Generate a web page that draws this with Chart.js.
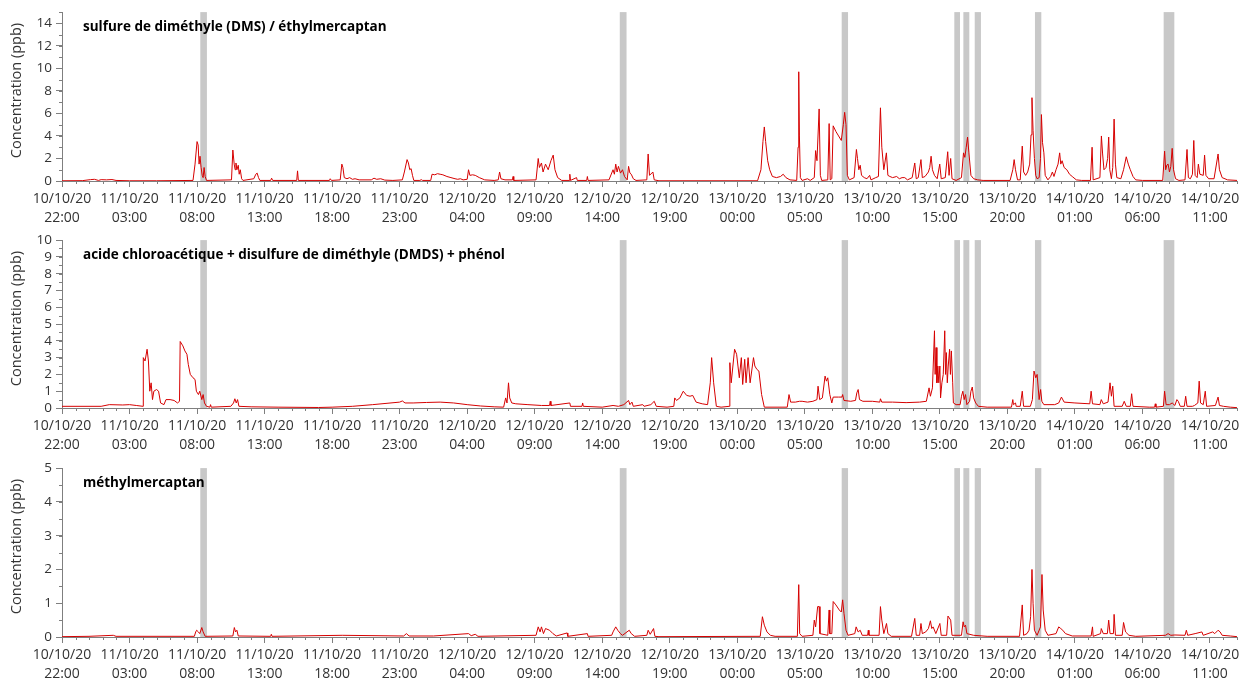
<!DOCTYPE html>
<html>
<head>
<meta charset="utf-8">
<script src="https://cdn.jsdelivr.net/npm/chart.js@4.4.1/dist/chart.umd.min.js"></script>
<style>
  html, body { margin: 0; padding: 0; background: #ffffff; }
  #wrap { position: relative; width: 1239px; height: 679px; overflow: hidden; }
  .panel { position: absolute; left: 0; width: 1239px; }
  canvas { display: block; }
</style>
</head>
<body>
<div id="wrap">
  <div class="panel" style="top:0px"><canvas id="c1" width="1239" height="227"></canvas></div>
  <div class="panel" style="top:228px"><canvas id="c2" width="1239" height="227"></canvas></div>
  <div class="panel" style="top:456px"><canvas id="c3" width="1239" height="223"></canvas></div>
</div>
<script>
// Time is expressed in hours elapsed since 10/10/20 22:00.
const START = { day: 10, month: 10, year: '20', hour: 22 };
const X_MAX = 87;
const xTickHours = [0, 5, 10, 15, 20, 25, 30, 35, 40, 45, 50, 55, 60, 65, 70, 75, 80, 85];

// Shaded periods [start, end] in hours
const shadedPeriods = [
  [10.24, 10.73], [41.30, 41.80], [57.73, 58.20], [66.07, 66.49],
  [66.74, 67.18], [67.58, 68.04], [72.04, 72.51], [81.57, 82.36]
];

const titles = [
  'sulfure de diméthyle (DMS) / éthylmercaptan',
  'acide chloroacétique + disulfure de diméthyle (DMDS) + phénol',
  'méthylmercaptan'
];
const yAxisTitle = 'Concentration (ppb)';

const yTicksDms = [0, 2, 4, 6, 8, 10, 12, 14];
const yTicksDmds = [0, 1, 2, 3, 4, 5, 6, 7, 8, 9, 10];
const yTicksMeth = [0, 1, 2, 3, 4, 5];

// [hour, ppb]
const dms = [
  [0,0.02],[1.5,0.03],[2.1,0.12],[2.4,0.15],[2.7,0.05],[2.9,0.12],[3.3,0.1],[3.7,0.13],[4.0,0.05],[5,0.02],[7,0.02],
  [9.7,0.05],[9.85,1.5],[10.0,3.5],[10.08,3.2],[10.15,1.5],[10.22,2.2],[10.3,1.2],[10.38,0.5],[10.45,0.3],[10.52,1.2],[10.6,0.4],[10.7,0.05],
  [12.55,0.1],[12.65,2.75],[12.75,1.5],[12.82,1.0],[12.88,1.6],[12.95,1.0],[13.05,1.4],[13.12,0.6],[13.2,1.0],[13.3,0.2],[13.4,0.05],
  [14.2,0.2],[14.35,0.6],[14.45,0.7],[14.55,0.3],[14.65,0.05],[15.45,0.05],[15.52,0.25],[15.6,0.05],
  [17.38,0.05],[17.44,0.9],[17.5,0.05],[19.8,0.05],[19.86,0.2],[19.95,0.05],
  [20.6,0.1],[20.72,1.5],[20.8,1.2],[20.9,0.3],[21.1,0.2],[21.3,0.3],[21.5,0.15],[21.7,0.2],[22.0,0.1],
  [22.9,0.1],[23.1,0.25],[23.3,0.15],[23.6,0.2],[23.9,0.08],[24.5,0.05],
  [25.2,0.1],[25.35,0.8],[25.55,1.9],[25.65,1.6],[25.75,1.0],[25.85,1.1],[25.95,0.5],[26.05,0.05],
  [26.5,0.05],[26.6,0.12],[26.7,0.05],[27.3,0.05],[27.4,0.6],[27.6,0.55],[27.8,0.65],[28.0,0.6],[28.2,0.55],[28.5,0.4],[28.8,0.3],
  [29.1,0.2],[29.3,0.15],[29.5,0.2],[29.7,0.1],[30.0,0.15],[30.1,1.0],[30.2,0.5],[30.4,0.55],[30.6,0.5],[30.9,0.3],[31.3,0.1],
  [32.0,0.05],[32.3,0.1],[32.4,0.8],[32.5,0.2],[32.8,0.1],[33.35,0.1],[33.4,0.4],[33.45,0.05],
  [35.1,0.1],[35.26,2.0],[35.35,1.2],[35.5,1.6],[35.62,0.8],[35.8,1.5],[36.0,1.0],[36.2,1.8],[36.37,2.3],[36.5,1.0],[36.7,0.3],[37.0,0.05],
  [37.55,0.05],[37.6,0.6],[37.65,0.05],[38.1,0.3],[38.15,0.05],[38.85,0.05],[38.9,0.4],[38.95,0.05],
  [40.5,0.1],[40.8,1.0],[40.9,0.6],[41.0,1.5],[41.1,0.8],[41.2,1.3],[41.35,0.7],[41.5,1.0],[41.65,0.4],[41.85,0.1],
  [41.95,1.3],[42.05,0.7],[42.15,0.6],[42.3,0.2],[42.5,0.05],[43.3,0.1],[43.4,2.4],[43.5,0.5],[43.75,0.8],[43.85,0.1],[44.2,0.02],
  [51.5,0.02],[51.75,1.0],[51.9,3.5],[52.0,4.8],[52.1,3.5],[52.25,1.8],[52.4,1.0],[52.6,0.4],[52.9,0.3],[53.2,0.4],[53.4,0.6],[53.6,0.3],[53.9,0.1],
  [54.4,0.05],[54.5,3.0],[54.55,9.7],[54.6,4.0],[54.67,0.3],[54.8,0.05],[55.2,0.2],[55.4,0.05],
  [55.7,0.3],[55.8,2.7],[55.9,1.8],[56.06,6.4],[56.15,0.5],[56.25,0.05],[56.7,0.1],[56.8,5.1],[56.88,0.1],[57.0,0.2],
  [57.1,4.9],[57.3,4.4],[57.5,4.0],[57.7,3.6],[57.85,5.0],[57.95,6.1],[58.05,5.0],[58.15,0.5],[58.3,0.1],
  [58.65,0.3],[58.82,2.8],[58.9,2.0],[59.0,1.0],[59.1,1.4],[59.2,0.5],[59.4,0.3],[59.6,0.2],[59.8,0.5],[59.9,0.1],
  [60.25,0.3],[60.45,0.4],[60.6,6.5],[60.7,3.0],[60.85,1.0],[61.04,2.5],[61.15,0.5],[61.3,0.4],[61.5,0.3],[61.8,0.4],[62.0,0.2],
  [62.2,0.3],[62.4,0.3],[62.6,0.1],[62.95,0.3],[63.14,1.6],[63.25,0.2],[63.4,0.3],[63.6,1.9],[63.7,0.3],[63.9,0.4],
  [64.15,0.8],[64.25,1.2],[64.35,2.2],[64.45,1.0],[64.6,0.5],[64.8,0.2],[64.99,1.5],[65.1,0.2],[65.4,0.3],[65.58,2.6],[65.68,0.5],[65.8,2.0],[65.9,0.2],
  [66.2,0.05],[66.6,0.3],[66.75,2.5],[66.85,2.1],[66.95,3.0],[67.05,3.9],[67.15,2.5],[67.3,0.5],[67.5,0.2],[67.8,0.1],[68.2,0.05],
  [70.2,0.05],[70.4,1.0],[70.5,1.9],[70.6,1.0],[70.75,0.1],[70.95,0.1],[71.1,3.1],[71.2,0.8],[71.35,0.5],[71.5,0.8],[71.65,1.5],
  [71.75,4.1],[71.82,7.4],[71.9,4.5],[72.0,2.0],[72.1,0.5],[72.2,0.2],[72.35,0.3],[72.45,2.0],[72.52,5.9],[72.6,3.4],[72.7,2.5],[72.8,0.5],
  [73.0,0.1],[73.2,0.4],[73.33,0.8],[73.45,0.4],[73.6,1.0],[73.75,1.5],[73.87,2.5],[73.95,1.5],[74.05,1.8],[74.2,1.2],[74.4,1.0],[74.6,0.6],[74.8,0.4],[75.1,0.1],[75.5,0.05],
  [76.15,0.05],[76.27,3.0],[76.35,0.1],[76.85,0.3],[76.96,4.0],[77.05,2.4],[77.15,1.0],[77.3,1.2],[77.42,2.0],[77.5,3.9],[77.58,1.0],
  [77.7,0.2],[77.8,1.2],[77.9,5.5],[78.0,1.5],[78.1,0.3],[78.4,0.2],[78.6,1.0],[78.8,2.15],[78.95,1.5],[79.1,1.0],[79.3,0.4],[79.5,0.1],[80.0,0.05],
  [81.5,0.05],[81.64,2.65],[81.72,1.0],[81.8,1.4],[81.9,1.5],[82.0,0.8],[82.1,1.3],[82.2,2.9],[82.3,1.0],[82.45,0.2],[82.7,0.05],
  [83.15,0.1],[83.3,2.8],[83.4,0.3],[83.55,0.2],[83.7,0.6],[83.8,3.6],[83.9,0.5],[84.05,0.3],[84.14,1.5],[84.25,0.6],[84.5,0.5],[84.6,2.3],[84.7,0.5],[84.9,0.2],
  [85.3,0.2],[85.6,2.4],[85.7,1.0],[85.9,0.3],[86.3,0.1],[87,0.05]
];

const dmds = [
  [0,0.1],[2.0,0.1],[2.9,0.1],[3.5,0.2],[4.5,0.18],[5.0,0.2],[5.5,0.15],[6.0,0.1],
  [6.02,3.0],[6.15,2.8],[6.3,3.5],[6.4,2.8],[6.5,1.0],[6.6,1.5],[6.7,0.5],[6.8,1.0],[7.0,1.1],[7.15,1.0],[7.3,0.3],[7.55,0.2],[7.7,0.5],[8.0,0.5],[8.3,0.45],[8.55,0.3],[8.7,0.4],
  [8.75,3.96],[8.95,3.7],[9.1,3.4],[9.25,3.2],[9.35,2.6],[9.5,2.0],[9.7,1.8],[9.85,1.7],[9.95,1.0],[10.1,0.8],[10.2,1.0],[10.35,0.5],[10.45,0.8],[10.55,0.3],[10.7,0.1],
  [10.95,0.05],[11.0,0.2],[11.05,0.05],[12.5,0.1],[12.7,0.3],[12.8,0.55],[12.9,0.3],[13.0,0.5],[13.1,0.1],
  [14,0.07],[16,0.05],[19,0.03],[20,0.05],[21.5,0.1],[23,0.2],[25.0,0.35],[25.2,0.42],[25.4,0.3],[26.0,0.3],[27.0,0.33],[28.0,0.35],[29.0,0.3],[30.0,0.2],[31.0,0.12],[32.0,0.07],
  [32.7,0.05],[32.85,0.6],[32.95,0.3],[33.06,1.5],[33.15,0.6],[33.3,0.3],[33.6,0.25],[34.5,0.2],[35.5,0.15],[36.1,0.15],[36.15,0.4],[36.2,0.15],
  [37.6,0.3],[37.65,0.1],[38.5,0.1],[38.55,0.3],[38.6,0.1],[40.0,0.05],[40.8,0.15],[41.2,0.1],[41.6,0.2],[41.95,0.45],[42.05,0.2],[42.2,0.35],[42.3,0.1],
  [43.0,0.2],[43.1,0.1],[43.6,0.2],[43.85,0.4],[44.0,0.1],[44.8,0.05],
  [45.3,0.1],[45.37,0.6],[45.5,0.45],[45.75,0.6],[46.0,1.0],[46.25,0.75],[46.5,0.7],[46.7,0.75],[46.95,0.35],[47.4,0.25],[47.8,0.2],
  [48.0,1.5],[48.1,3.0],[48.25,1.5],[48.45,0.1],[48.8,0.05],
  [49.4,0.1],[49.45,2.7],[49.55,1.5],[49.8,3.5],[49.95,3.2],[50.05,2.5],[50.15,1.8],[50.3,3.0],[50.4,1.4],[50.55,2.9],[50.65,1.5],[50.8,3.0],[50.95,1.5],
  [51.2,3.0],[51.3,2.5],[51.45,2.3],[51.6,2.2],[51.8,0.8],[52.0,0.05],
  [53.7,0.05],[53.83,0.8],[53.95,0.35],[54.3,0.35],[54.6,0.4],[54.8,0.4],[55.2,0.35],[55.6,0.4],[55.9,0.5],[55.98,1.3],[56.1,0.5],[56.3,0.6],
  [56.5,1.9],[56.6,1.6],[56.7,1.8],[56.85,0.8],[57.0,0.3],[57.1,0.65],[57.5,0.65],[57.75,0.65],[57.8,0.8],[57.9,0.45],[58.4,0.4],[58.75,0.45],[58.85,0.9],[58.95,1.1],[59.05,0.5],[59.3,0.4],
  [60.0,0.4],[60.55,0.35],[60.6,0.55],[60.7,0.35],[61.5,0.35],[62.5,0.32],[63.5,0.35],[64.0,0.4],
  [64.2,1.2],[64.3,0.7],[64.45,1.2],[64.6,4.6],[64.65,2.0],[64.72,3.6],[64.78,1.5],[64.85,2.5],[64.92,1.5],[65.0,2.5],[65.05,0.6],[65.15,1.5],[65.25,2.0],
  [65.36,4.6],[65.42,2.0],[65.48,3.3],[65.55,1.5],[65.62,2.5],[65.72,3.5],[65.78,2.0],[65.85,3.4],[65.95,1.5],[66.0,0.3],
  [66.2,0.2],[66.5,0.2],[66.6,0.7],[66.7,1.0],[66.8,0.5],[66.9,0.8],[67.0,0.2],[67.2,0.4],[67.3,1.0],[67.4,1.25],[67.5,0.6],[67.65,0.3],[67.85,0.1],[68.5,0.05],
  [70.3,0.05],[70.4,0.5],[70.45,0.2],[70.6,0.3],[70.65,0.1],[70.95,0.1],[71.1,1.0],[71.2,0.1],[71.7,0.1],[71.85,0.5],[71.97,2.2],[72.1,1.8],[72.2,2.0],[72.35,0.5],[72.46,1.1],[72.55,0.4],[72.7,0.2],
  [73.5,0.2],[73.8,0.3],[74.0,0.65],[74.2,0.35],[75.0,0.3],[76.1,0.25],[76.2,1.0],[76.3,0.25],[76.85,0.2],[76.95,0.5],[77.1,0.25],[77.45,0.35],[77.6,1.5],[77.7,0.7],[77.8,1.3],[77.9,0.1],
  [78.5,0.1],[78.65,0.4],[78.8,0.1],[79.1,0.1],[79.2,0.85],[79.3,0.1],[80.5,0.05],[80.9,0.05],[80.95,0.25],[81.0,0.05],
  [81.55,0.1],[81.64,1.0],[81.75,0.2],[82.0,0.2],[82.2,0.3],[82.4,0.15],[82.55,0.5],[82.65,0.4],[82.8,0.1],[83.1,0.1],[83.2,0.7],[83.3,0.1],
  [83.7,0.1],[83.85,0.15],[84.1,0.3],[84.2,1.6],[84.3,0.3],[84.5,0.2],[84.65,1.0],[84.75,0.1],[85.4,0.15],[85.6,0.65],[85.7,0.15],[86.0,0.1],[86.5,0.05],[87,0.02]
];

const methyl = [
  [0,0.01],[2,0.02],[3.8,0.05],[4,0.02],[9.8,0.02],[9.9,0.15],[9.97,0.2],[10.1,0.15],[10.2,0.1],[10.35,0.28],[10.45,0.15],[10.6,0.02],
  [12.65,0.03],[12.76,0.28],[12.85,0.15],[12.95,0.2],[13.05,0.03],[15.45,0.02],[15.5,0.08],[15.55,0.02],[20.75,0.05],
  [25.3,0.03],[25.5,0.1],[25.7,0.03],[27.5,0.03],[30.1,0.1],[30.3,0.04],[30.6,0.08],[30.8,0.02],
  [35.1,0.05],[35.26,0.3],[35.4,0.15],[35.5,0.3],[35.65,0.1],[35.8,0.25],[36.1,0.2],[36.35,0.1],[36.6,0.03],[37.4,0.12],[37.45,0.02],[38.9,0.1],[38.95,0.02],
  [40.7,0.05],[40.8,0.15],[41.0,0.3],[41.15,0.2],[41.35,0.1],[41.5,0.05],[42.0,0.2],[42.15,0.1],[42.4,0.02],[43.3,0.05],[43.4,0.2],[43.55,0.08],[43.8,0.25],[43.9,0.02],[44.2,0.01],
  [51.7,0.02],[51.86,0.6],[52.0,0.35],[52.2,0.15],[52.45,0.05],[52.8,0.02],[54.45,0.02],[54.55,1.55],[54.62,0.1],[54.8,0.02],
  [55.6,0.05],[55.7,0.5],[55.8,0.3],[55.95,0.9],[56.06,0.9],[56.12,0.1],[56.7,0.05],[56.8,0.8],[56.85,0.1],[57.0,0.1],
  [57.1,1.05],[57.3,0.95],[57.55,0.8],[57.7,0.74],[57.8,1.1],[57.9,0.7],[58.05,0.2],[58.2,0.05],
  [58.7,0.1],[58.8,0.3],[58.95,0.15],[59.1,0.2],[59.25,0.05],[59.65,0.05],[59.7,0.2],[59.75,0.05],
  [60.5,0.05],[60.6,0.9],[60.7,0.5],[60.85,0.1],[61.05,0.4],[61.15,0.1],[61.4,0.02],
  [62.9,0.02],[63.14,0.55],[63.25,0.05],[63.5,0.05],[63.6,0.4],[63.7,0.1],[63.95,0.15],[64.15,0.25],[64.3,0.48],[64.4,0.25],[64.5,0.3],[64.7,0.1],
  [65.0,0.4],[65.1,0.05],[65.5,0.05],[65.6,0.62],[65.8,0.5],[65.9,0.05],[66.6,0.05],[66.72,0.45],[66.8,0.3],[66.9,0.35],[67.0,0.1],[67.5,0.05],[68.5,0.02],
  [70.9,0.02],[71.1,0.95],[71.2,0.05],[71.45,0.1],[71.6,0.2],[71.72,0.6],[71.82,2.0],[71.9,1.0],[72.0,0.2],[72.2,0.05],
  [72.45,0.3],[72.56,1.85],[72.65,0.8],[72.8,0.2],[73.0,0.05],[73.6,0.1],[73.8,0.3],[73.95,0.25],[74.1,0.2],[74.3,0.1],[74.8,0.03],
  [76.2,0.03],[76.3,0.3],[76.35,0.02],[76.9,0.1],[76.95,0.25],[77.1,0.1],[77.4,0.1],[77.5,0.5],[77.6,0.1],[77.85,0.1],[77.9,0.67],[78.0,0.05],
  [78.5,0.05],[78.6,0.43],[78.75,0.15],[79.0,0.05],[79.5,0.02],[81.7,0.05],[81.9,0.1],[82.1,0.05],[82.4,0.06],
  [83.15,0.05],[83.25,0.2],[83.35,0.05],[83.9,0.1],[84.4,0.15],[84.5,0.05],[85.2,0.15],[85.35,0.1],[85.6,0.2],[85.75,0.15],[85.9,0.05],[86.5,0.03],[87,0.01]
];

const FONT = '"Open Sans", "Noto Sans", sans-serif';
const LINE_COLOR = 'rgb(214, 0, 0)';
const AXIS_COLOR = '#7f7f7f';
const LABEL_COLOR = '#333333';
const BAND_COLOR = '#c8c8c8';
const Y_AXIS_RIGHT = 62;
const PLOT_TOP = 12;

function pad2(n) { return (n < 10 ? '0' : '') + n; }
function formatHour(h) {
  const total = START.hour + h;
  const day = START.day + Math.floor(total / 24);
  const hh = total % 24;
  return [pad2(day) + '/' + pad2(START.month) + '/' + START.year, pad2(hh) + ':00'];
}

const shadingPlugin = {
  id: 'shading',
  beforeDatasetsDraw(chart) {
    const { ctx, chartArea, scales } = chart;
    ctx.save();
    ctx.fillStyle = BAND_COLOR;
    shadedPeriods.forEach(([a, b]) => {
      const x0 = scales.x.getPixelForValue(a);
      const x1 = scales.x.getPixelForValue(b);
      ctx.fillRect(x0, chartArea.top, x1 - x0, chartArea.bottom - chartArea.top);
    });
    ctx.restore();
  }
};

const decorPlugin = {
  id: 'decor',
  afterDraw(chart, args, opts) {
    const { ctx, chartArea, scales } = chart;
    ctx.save();
    ctx.strokeStyle = AXIS_COLOR;
    ctx.lineWidth = 1;
    ctx.beginPath();
    // minor ticks on the time axis, one per hour
    for (let h = 0; h <= X_MAX; h++) {
      if (h % 5 === 0) continue;
      const x = Math.round(scales.x.getPixelForValue(h)) + 0.5;
      ctx.moveTo(x, chartArea.bottom);
      ctx.lineTo(x, chartArea.bottom + 3);
    }
    // minor ticks on the value axis
    for (let v = 0; v <= opts.yMax + 1e-9; v += opts.yMinor) {
      const y = Math.round(scales.y.getPixelForValue(v)) + 0.5;
      ctx.moveTo(chartArea.left - 3, y);
      ctx.lineTo(chartArea.left, y);
    }
    ctx.stroke();

    // value axis title
    ctx.fillStyle = LABEL_COLOR;
    ctx.font = '14.5px ' + FONT;
    ctx.textAlign = 'center';
    ctx.textBaseline = 'middle';
    ctx.translate(17, 90.5);
    ctx.rotate(-Math.PI / 2);
    ctx.fillText(yAxisTitle, 0, 0);
    ctx.restore();

    // panel title
    ctx.save();
    ctx.fillStyle = '#000000';
    ctx.font = 'bold 13.5px ' + FONT;
    ctx.textAlign = 'left';
    ctx.textBaseline = 'middle';
    ctx.fillText(opts.title, 83, 27.5);
    ctx.restore();
  }
};

function makePanel(canvasId, title, series, yMax, yTicks, yMinor, plotBottom) {
  const canvas = document.getElementById(canvasId);
  const canvasH = canvas.height;
  return new Chart(canvas, {
    type: 'line',
    data: {
      datasets: [{
        data: series.map(([x, y]) => ({ x, y })),
        borderColor: LINE_COLOR,
        borderWidth: 1,
        pointRadius: 0,
        tension: 0,
        fill: false
      }]
    },
    options: {
      responsive: false,
      animation: false,
      events: [],
      layout: { padding: { top: PLOT_TOP, right: 2, left: 0, bottom: 0 } },
      plugins: {
        legend: { display: false },
        tooltip: { enabled: false },
        decor: { title, yMax, yMinor }
      },
      scales: {
        x: {
          type: 'linear',
          min: 0,
          max: X_MAX,
          afterBuildTicks: s => { s.ticks = xTickHours.map(v => ({ value: v })); },
          afterFit: s => {
            s.height = canvasH - plotBottom;
            s.paddingLeft = 0;
            s.paddingRight = 0;
          },
          ticks: {
            autoSkip: false, maxRotation: 0, minRotation: 0, padding: 2,
            color: LABEL_COLOR,
            font: { family: FONT, size: 14, lineHeight: 1.4 },
            callback: v => formatHour(v)
          },
          grid: { drawOnChartArea: false, tickLength: 6, color: AXIS_COLOR },
          border: { color: AXIS_COLOR }
        },
        y: {
          type: 'linear',
          min: 0,
          max: yMax,
          afterBuildTicks: s => { s.ticks = yTicks.map(v => ({ value: v })); },
          afterFit: s => { s.width = Y_AXIS_RIGHT; },
          ticks: {
            autoSkip: false,
            padding: 4,
            color: LABEL_COLOR,
            font: { family: FONT, size: 13.5 }
          },
          grid: { drawOnChartArea: false, tickLength: 6, color: AXIS_COLOR },
          border: { color: AXIS_COLOR }
        }
      }
    },
    plugins: [shadingPlugin, decorPlugin]
  });
}

makePanel('c1', titles[0], dms, 15, yTicksDms, 1, 181);
makePanel('c2', titles[1], dmds, 10, yTicksDmds, 0.5, 180);
makePanel('c3', titles[2], methyl, 5, yTicksMeth, 0.5, 181);
</script>
</body>
</html>
